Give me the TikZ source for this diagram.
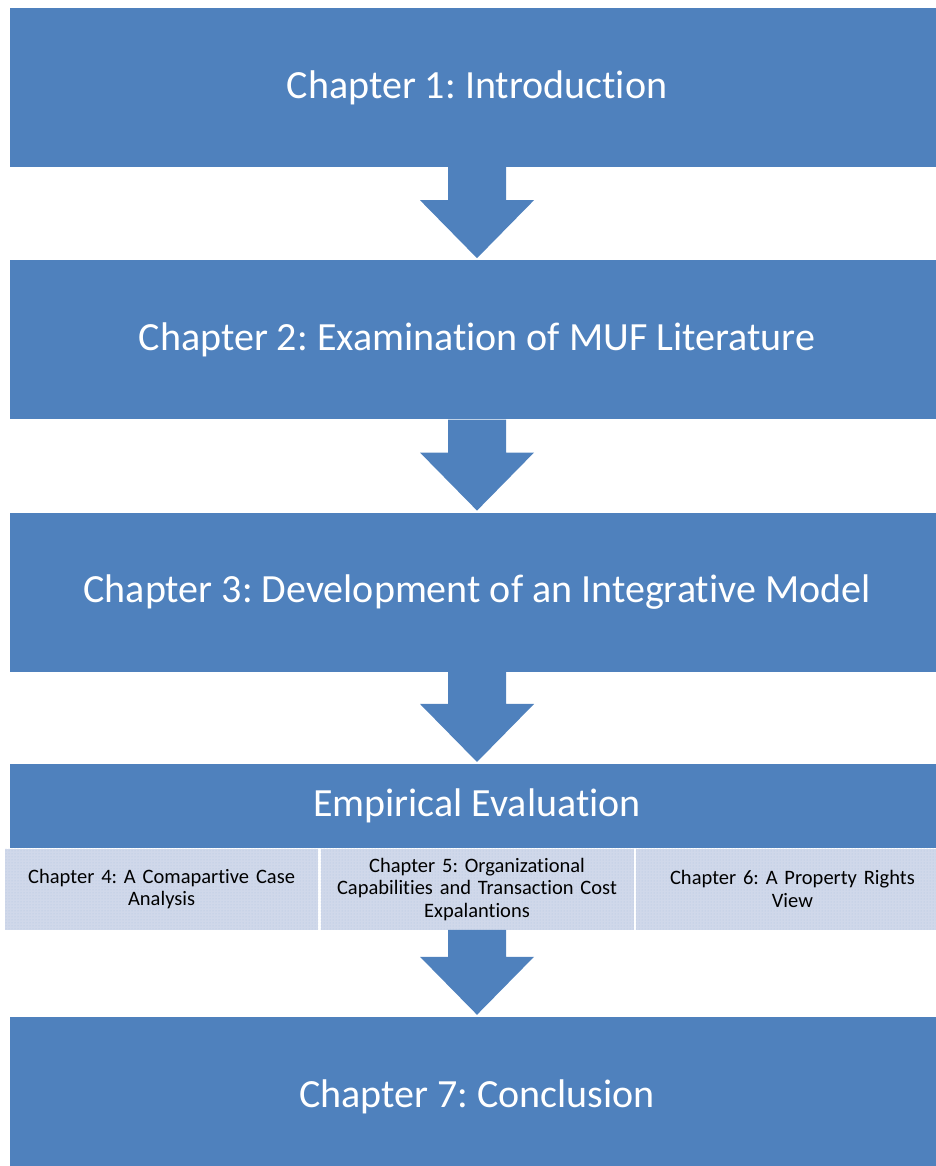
\documentclass[tikz,border=0pt]{standalone}
\usepackage{fontspec}
\setmainfont[Ligatures=NoCommon]{Carlito}
\frenchspacing
\usetikzlibrary{calc,positioning,patterns}

\definecolor{chapblue}{HTML}{4F81BD}
\definecolor{subfill}{HTML}{D0D8EA}

\tikzset{
  chapbox/.style={fill=chapblue,text=white,minimum width=934pt,minimum height=159pt,
    inner sep=0pt,font=\fontsize{40}{48}\selectfont},
  subbox/.style={fill=subfill,postaction={pattern=dots,pattern color=chapblue!45},
    minimum width=313pt,minimum height=81pt,text width=305pt,align=center,
    inner sep=0pt,font=\fontsize{20.5}{22.5}\selectfont}
}

\newcommand{\chaparrow}[2]{%
\fill[chapblue] ($(#1.south)+(-29,0)$) -- ($(#1.south)+(29,0)$) -- ($(#2.north)+(29,60)$)
  -- ($(#2.north)+(57,60)$) -- ($(#2.north)+(0,2)$) -- ($(#2.north)+(-57,60)$)
  -- ($(#2.north)+(-29,60)$) -- cycle;}

\begin{document}
\begin{tikzpicture}[x=1pt,y=1pt]
\useasboundingbox (0,0) rectangle (936,1166);
\clip (0,0) rectangle (936,1166);
\node[chapbox] (ch1) at (477,1078.5) {Chapter 1: Introduction};
\node[chapbox,below=93pt of ch1] (ch2) {Chapter 2: Examination of MUF Literature};
\node[chapbox,below=93pt of ch2] (ch3) {Chapter 3: Development of an Integrative Model};
\node[chapbox,below=92pt of ch3,minimum height=84pt] (empir) {Empirical Evaluation};
\node[subbox,below=0pt of empir] (ch5) {Chapter 5: Organizational\\Capabilities and Transaction Cost\\Expalantions};
\node[subbox,left=2pt of ch5] (ch4) {Chapter 4: A Comapartive Case\\Analysis};
\node[subbox,right=2pt of ch5] (ch6) {Chapter 6: A Property Rights\\View};
\node[chapbox,below=87pt of ch5] (ch7) {Chapter 7: Conclusion};
% block arrows between the chapters
\chaparrow{ch1}{ch2}
\chaparrow{ch2}{ch3}
\chaparrow{ch3}{empir}
\chaparrow{ch5}{ch7}
\end{tikzpicture}
\end{document}
